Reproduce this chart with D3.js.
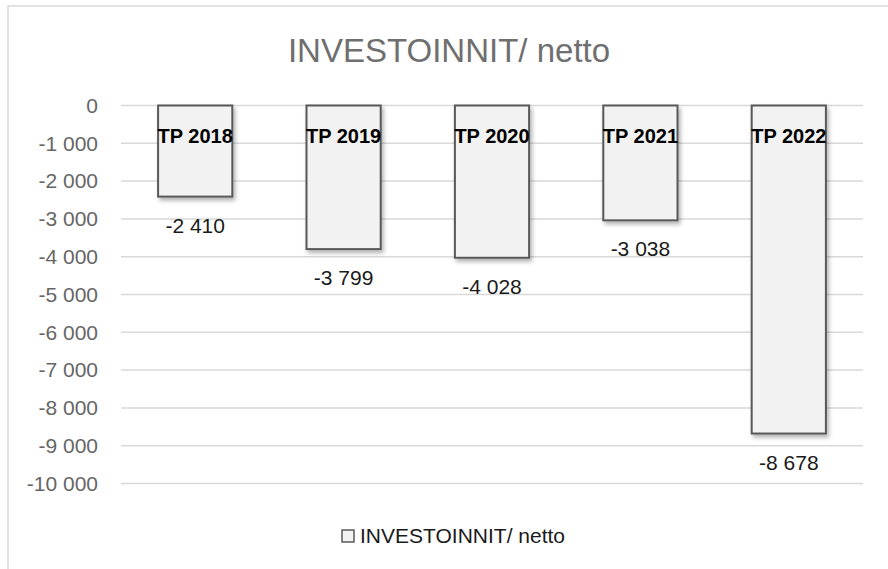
<!DOCTYPE html>
<html>
<head>
<meta charset="utf-8">
<script src="https://cdn.jsdelivr.net/npm/d3@7"></script>
<style>
  html, body { margin: 0; padding: 0; background: #fff; }
  svg { display: block; font-family: "Liberation Sans", Arial, sans-serif; }
</style>
</head>
<body>
<div id="chart"></div>
<script>
  var categories = ['TP 2018', 'TP 2019', 'TP 2020', 'TP 2021', 'TP 2022'];
  var values = [-2410, -3799, -4028, -3038, -8678];
  var valueLabels = ['-2 410', '-3 799', '-4 028', '-3 038', '-8 678'];
  var ticks = [0, -1000, -2000, -3000, -4000, -5000, -6000, -7000, -8000, -9000, -10000];
  var tickLabels = ['0', '-1 000', '-2 000', '-3 000', '-4 000', '-5 000', '-6 000', '-7 000', '-8 000', '-9 000', '-10 000'];
  var seriesName = 'INVESTOINNIT/ netto';
  var chartTitle = 'INVESTOINNIT/ netto';

(function () {
  'use strict';

  var W = 888, H = 569;
  var plotLeft = 121, plotRight = 863, plotTop = 105.5, plotBottom = 483.5;

  var svg = d3.select('#chart').append('svg')
    .attr('width', W)
    .attr('height', H);

  var defs = svg.append('defs');
  var f = defs.append('filter').attr('id', 'shadow')
    .attr('x', '-20%').attr('y', '-20%').attr('width', '140%').attr('height', '140%');
  f.append('feDropShadow')
    .attr('dx', 2).attr('dy', 3).attr('stdDeviation', 2)
    .attr('flood-color', '#000').attr('flood-opacity', 0.3);

  // chart frame (only top and left visible)
  svg.append('rect')
    .attr('x', 8).attr('y', 6)
    .attr('width', 920).attr('height', 620)
    .attr('fill', '#fff')
    .attr('stroke', '#d9d9d9')
    .attr('stroke-width', 1.5);

  var x = d3.scaleBand()
    .domain(categories)
    .range([plotLeft, plotRight])
    .paddingInner(0.5)
    .paddingOuter(0.25);

  var y = d3.scaleLinear()
    .domain([-10000, 0])
    .range([plotBottom, plotTop]);

  // gridlines
  svg.append('g').selectAll('line')
    .data(ticks)
    .enter().append('line')
    .attr('x1', plotLeft).attr('x2', plotRight)
    .attr('y1', function (d) { return y(d); })
    .attr('y2', function (d) { return y(d); })
    .attr('stroke', '#d9d9d9')
    .attr('stroke-width', 1.5);

  // tick labels
  svg.append('g').selectAll('text')
    .data(ticks)
    .enter().append('text')
    .attr('x', 98)
    .attr('y', function (d) { return y(d); })
    .attr('dy', '0.35em')
    .attr('text-anchor', 'end')
    .attr('font-size', 21)
    .attr('fill', '#666')
    .text(function (d, i) { return tickLabels[i]; });

  // bars
  svg.append('g').selectAll('rect')
    .data(values)
    .enter().append('rect')
    .attr('x', function (d, i) { return x(categories[i]); })
    .attr('y', y(0))
    .attr('width', x.bandwidth())
    .attr('height', function (d) { return y(d) - y(0); })
    .attr('fill', '#f2f2f2')
    .attr('stroke', '#595959')
    .attr('stroke-width', 2)
    .attr('filter', 'url(#shadow)');

  // value labels
  svg.append('g').selectAll('text')
    .data(values)
    .enter().append('text')
    .attr('x', function (d, i) { return x(categories[i]) + x.bandwidth() / 2; })
    .attr('y', function (d) { return y(d) + 36; })
    .attr('text-anchor', 'middle')
    .attr('font-size', 21)
    .attr('fill', '#1a1a1a')
    .text(function (d, i) { return valueLabels[i]; });

  // category labels
  svg.append('g').selectAll('text')
    .data(categories)
    .enter().append('text')
    .attr('x', function (d) { return x(d) + x.bandwidth() / 2; })
    .attr('y', 143)
    .attr('text-anchor', 'middle')
    .attr('font-size', 20)
    .attr('font-weight', 'bold')
    .attr('fill', '#000')
    .text(function (d) { return d; });

  // title
  svg.append('text')
    .attr('x', 449).attr('y', 62)
    .attr('text-anchor', 'middle')
    .attr('font-size', 33)
    .attr('fill', '#6f6f6f')
    .text(chartTitle);

  // legend
  var lg = svg.append('g');
  lg.append('rect')
    .attr('x', 342).attr('y', 530)
    .attr('width', 12).attr('height', 12)
    .attr('fill', '#f2f2f2')
    .attr('stroke', '#595959')
    .attr('stroke-width', 1.5);
  lg.append('text')
    .attr('x', 360).attr('y', 543)
    .attr('font-size', 21)
    .attr('fill', '#1a1a1a')
    .text(seriesName);
})();
</script>
</body>
</html>
